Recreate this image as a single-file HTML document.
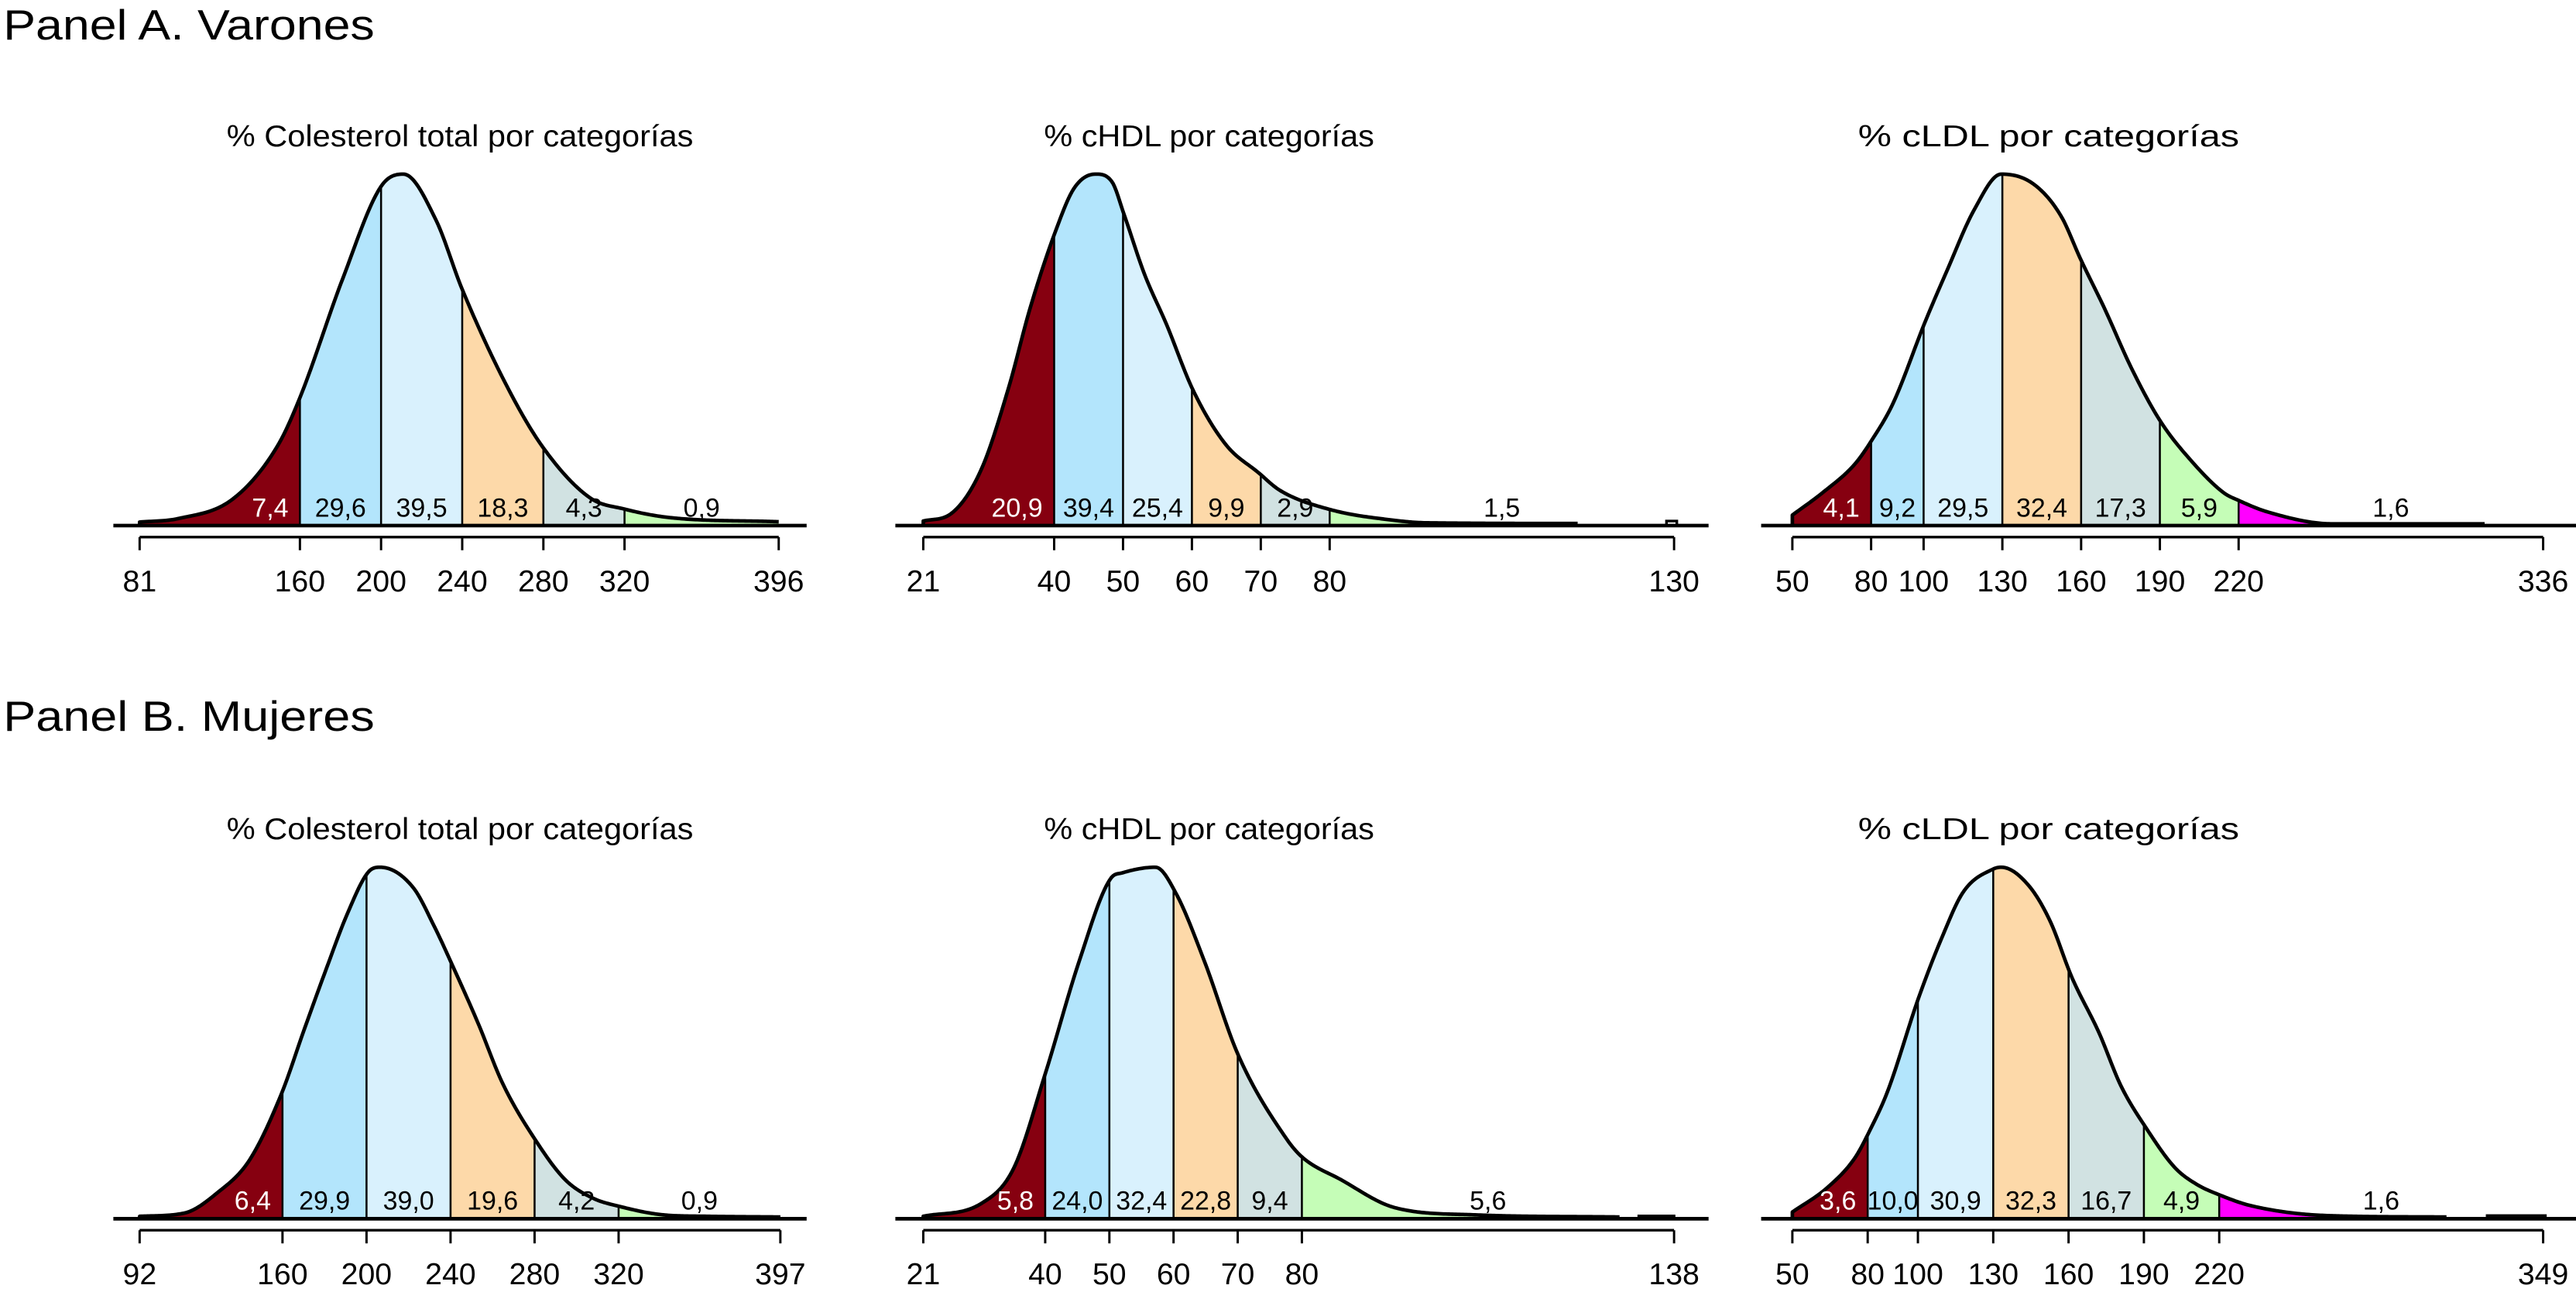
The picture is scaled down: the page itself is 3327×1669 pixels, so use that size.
<!DOCTYPE html>
<html><head><meta charset="utf-8">
<style>
html,body{margin:0;padding:0;background:#fff;}
svg{display:block;font-family:"Liberation Sans",Arial,sans-serif;}
</style></head>
<body>
<svg id="fig" width="3327" height="1669" viewBox="0 0 1568 786.6" preserveAspectRatio="none" xmlns="http://www.w3.org/2000/svg">
<text x="2" y="24" font-size="26" textLength="226" lengthAdjust="spacingAndGlyphs">Panel A. Varones</text>
<text x="2" y="445" font-size="26" textLength="226" lengthAdjust="spacingAndGlyphs">Panel B. Mujeres</text>
</svg>
<script>
// ---- Data ----
// Panel A, total cholesterol
const a1X = [81,100,127,149,160,181,200,211,227,240,262,280,303,320,342,396];
const a1D = [1,2,7.6,22.7,36.4,70.1,96.5,100,87,67.2,39.7,22.1,7.9,4.7,2.3,1.1];
const a1Breaks = [81,160,200,240,280,320,396];
const a1Pct = ["7,4","29,6","39,5","18,3","4,3","0,9"];
// Panel A, HDL
const a2X = [21,25.1,29.4,33.4,36.5,40.3,42.9,46,48.4,50.1,53.1,56.3,60.2,64.9,69.7,72.8,80.2,89.4,94,116];
const a2D = [1.3,3.5,15.9,39.3,61.8,84.3,96,100,97.8,88.8,71.6,57.3,38.4,23.1,15,10,4.5,1.5,0.8,0.6];
const a2Breaks = [21,40,50,60,70,80,130];
const a2Pct = ["20,9","39,4","25,4","9,9","2,9","1,5"];
const a2Blocks = [[128.9,130.4,1.3]];
// Panel A, LDL
const a3X = [50,61.4,73.8,80.6,88.3,100.7,109,119.3,129.6,142,152.4,159.8,168.9,179.3,190.2,202,214.4,220.2,231,255.8,313.7];
const a3D = [3,9.3,17.5,24.7,34.7,58.2,72.7,89.9,100,97.1,88,75.8,61.8,44.6,29.7,18.4,9.3,7.1,3.9,0.5,0.5];
const a3Breaks = [50,80,100,130,160,190,220,336];
const a3Pct = ["4,1","9,2","29,5","32,4","17,3","5,9","1,6"];
// Panel B, total cholesterol
const b1X = [92,113.2,128.8,144.3,159.6,170.2,180.6,190.9,200.8,206.5,222.1,232.4,240.2,253.2,264.8,280.4,294.6,307.6,320.5,341.3,362,397];
const b1D = [0.7,1.6,7.3,16.7,35.7,53.6,70.7,86.8,98.6,100,94.3,83,73,55.5,38.5,22.4,11.1,5.9,3.5,1.1,0.7,0.5];
const b1Breaks = [92,160,200,240,280,320,397];
const b1Pct = ["6,4","29,9","39,0","19,6","4,2","0,9"];
// Panel B, HDL
const b2X = [21,30,35.1,40,45.3,50.2,52,57.2,60.4,64.8,70.1,77.5,80,86,94.4,107,129.5];
const b2D = [0.7,4.3,14.4,41.2,73.3,96.8,98.4,100,92.5,73.3,46.5,23,17.6,11.2,3.2,1.1,0.5];
const b2Breaks = [21,40,50,60,70,80,138];
const b2Pct = ["5,8","24,0","32,4","22,8","9,4","5,6"];
const b2Blocks = [[132.5,138,0.8]];
// Panel B, LDL
const b3X = [50,64,74.9,80.9,87.8,100.4,109.5,118.1,130,133.2,144,152.7,161.3,172.2,180.8,191,202.4,211,220.4,232.7,263,310.5];
const b3D = [1.9,8.9,17.3,25.2,36,63.1,79.9,93,99.5,100,94.9,84.6,68.7,52.8,37.9,25.7,14.5,9.8,6.7,3.7,0.9,0.5];
const b3Breaks = [50,80,100,130,160,190,220,349];
const b3Pct = ["3,6","10,0","30,9","32,3","16,7","4,9","1,6"];
const b3Blocks = [[326.7,349.9,0.9]];
const chartTitles = ["% Colesterol total por categorías","% cHDL por categorías","% cLDL por categorías"];
const titleWidths = [284,201,232];

// ---- Rendering ----
const NS="http://www.w3.org/2000/svg";
const svg=document.getElementById('fig');
const fills=["#860010","#b3e5fc","#d9f1fd","#fdd9a9","#d1e2e2","#c5fdb7","#ff00ff"];
function el(tag,attrs,parent){const e=document.createElementNS(NS,tag);for(const k in attrs)e.setAttribute(k,attrs[k]);(parent||svg).appendChild(e);return e;}
function interp(xs,ys){
  const n=xs.length,m=new Array(n);const d=[];
  for(let i=0;i<n-1;i++)d.push((ys[i+1]-ys[i])/(xs[i+1]-xs[i]));
  m[0]=d[0];m[n-1]=d[n-2];
  for(let i=1;i<n-1;i++){m[i]=(d[i-1]*d[i]<=0)?0:(d[i-1]+d[i])/2;}
  for(let i=0;i<n-1;i++){if(d[i]===0){m[i]=0;m[i+1]=0;continue;}const a=m[i]/d[i],b=m[i+1]/d[i],s=a*a+b*b;if(s>9){const t=3/Math.sqrt(s);m[i]=t*a*d[i];m[i+1]=t*b*d[i];}}
  return function(x){
    if(x<=xs[0])return ys[0]; if(x>=xs[n-1])return ys[n-1];
    let i=0;while(x>xs[i+1])i++;
    const h=xs[i+1]-xs[i],t=(x-xs[i])/h,t2=t*t,t3=t2*t;
    return (2*t3-3*t2+1)*ys[i]+(t3-2*t2+t)*h*m[i]+(-2*t3+3*t2)*ys[i+1]+(t3-t2)*h*m[i+1];
  };
}
function chart(cfg){
  const g=el('g',{});
  
  
  const {xs,ds,breaks,pct,base,t0,t1,p0,p1,lineL,lineR,title,tw,tc,blocks}=cfg;
  const H=214;
  const sx=v=>p0+(v-t0)*(p1-p0)/(t1-t0);
  const sy=d=>base-d*H/100;
  const f=interp(xs,ds);
  const xEnd=xs[xs.length-1];
  const tt=el('text',{x:tc-tw/2,y:base-231,'font-size':18.5,textLength:tw,lengthAdjust:'spacingAndGlyphs'},g);
  tt.textContent=title;
  
  
  for(let i=0;i<breaks.length-1;i++){
    const a=breaks[i],b=Math.min(breaks[i+1],xEnd);
    if(b<=a)continue;
    let pts=[];const N=60;
    for(let k=0;k<=N;k++){const v=a+(b-a)*k/N;pts.push(sx(v).toFixed(2)+','+sy(f(v)).toFixed(2));}
    pts.push(sx(b).toFixed(2)+','+base);pts.push(sx(a).toFixed(2)+','+base);
    const p=el('polygon',{points:pts.join(' '),fill:fills[i],stroke:'none'},g);
    
    
    if(i>0){
      const dv=el('line',{x1:sx(a),x2:sx(a),y1:base,y2:sy(f(a)),stroke:'#000','stroke-width':1.2},g);
      
      
    }
  }
  let op=[];for(let k=0;k<=400;k++){const v=xs[0]+(xEnd-xs[0])*k/400;op.push(sx(v).toFixed(2)+','+sy(f(v)).toFixed(2));}
  op.unshift(sx(xs[0]).toFixed(2)+','+base);
  const ol=el('polyline',{points:op.join(' '),fill:'none',stroke:'#000','stroke-width':2.2,'stroke-linejoin':'round'},g);
  
  
  (blocks||[]).forEach(bk=>{
    const r=el('rect',{x:sx(bk[0]),y:sy(bk[2]),width:sx(bk[1])-sx(bk[0]),height:base-sy(bk[2]),fill:'#fff',stroke:'#000','stroke-width':1.6},g);
    
    
  });
  const bl=el('line',{x1:lineL,x2:lineR,y1:base,y2:base,stroke:'#000','stroke-width':2.2},g);
  
  
  for(let i=0;i<pct.length;i++){
    const a=breaks[i],b=breaks[i+1];
    let x,anchor='middle';
    if(i===0){x=sx(b)-7;anchor='end';}else x=(sx(a)+sx(b))/2;
    const t=el('text',{x:x,y:base-5.5,'font-size':16,'text-anchor':anchor,fill:i===0?'#fff':'#000'},g);
    t.textContent=pct[i];
    
    
  }
  const ay=base+7;
  const ax=el('line',{x1:sx(breaks[0]),x2:sx(breaks[breaks.length-1]),y1:ay,y2:ay,stroke:'#000','stroke-width':1.6},g);
  
  
  breaks.forEach(v=>{
    const tk=el('line',{x1:sx(v),x2:sx(v),y1:ay,y2:ay+8,stroke:'#000','stroke-width':1.4},g);
    
    
    const tl=el('text',{x:sx(v),y:base+40,'font-size':18.5,'text-anchor':'middle'},g);
    tl.textContent=String(v);
    
    
  });
}
chart({name:'chart-a-total',xs:a1X,ds:a1D,breaks:a1Breaks,pct:a1Pct,base:320,t0:81,t1:396,p0:85,p1:474,lineL:69,lineR:491,title:chartTitles[0],tw:titleWidths[0],tc:280});
chart({name:'chart-a-hdl',xs:a2X,ds:a2D,breaks:a2Breaks,pct:a2Pct,base:320,t0:21,t1:130,p0:562,p1:1019,lineL:545,lineR:1040,title:chartTitles[1],tw:titleWidths[1],tc:736,blocks:a2Blocks});
chart({name:'chart-a-ldl',xs:a3X,ds:a3D,breaks:a3Breaks,pct:a3Pct,base:320,t0:50,t1:336,p0:1091,p1:1548,lineL:1072,lineR:1568,title:chartTitles[2],tw:titleWidths[2],tc:1247});
chart({name:'chart-b-total',xs:b1X,ds:b1D,breaks:b1Breaks,pct:b1Pct,base:742,t0:92,t1:397,p0:85,p1:475,lineL:69,lineR:491,title:chartTitles[0],tw:titleWidths[0],tc:280});
chart({name:'chart-b-hdl',xs:b2X,ds:b2D,breaks:b2Breaks,pct:b2Pct,base:742,t0:21,t1:138,p0:562,p1:1019,lineL:545,lineR:1040,title:chartTitles[1],tw:titleWidths[1],tc:736,blocks:b2Blocks});
chart({name:'chart-b-ldl',xs:b3X,ds:b3D,breaks:b3Breaks,pct:b3Pct,base:742,t0:50,t1:349,p0:1091,p1:1548,lineL:1072,lineR:1568,title:chartTitles[2],tw:titleWidths[2],tc:1247,blocks:b3Blocks});
</script>
</body></html>
